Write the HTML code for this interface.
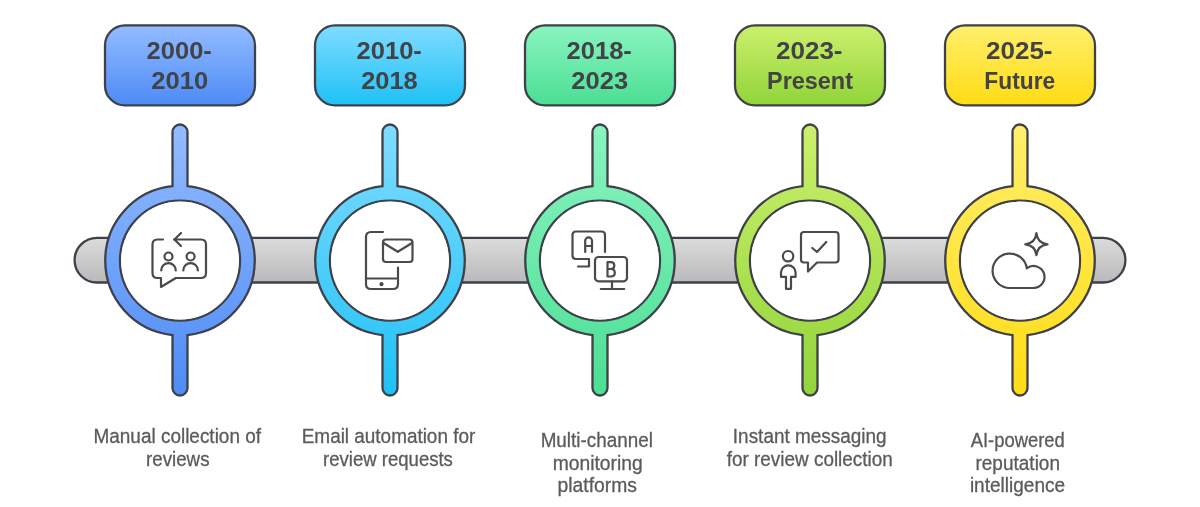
<!DOCTYPE html>
<html><head><meta charset="utf-8"><style>
html,body{margin:0;padding:0;background:#fff;}
body{width:1200px;height:507px;overflow:hidden;}
svg{display:block;will-change:transform;}
.yr{font-family:"Liberation Sans",sans-serif;font-weight:bold;font-size:24.7px;fill:#414347;text-anchor:middle;}
.lb{font-family:"Liberation Sans",sans-serif;font-size:19.3px;fill:#5b5b5b;stroke:#5b5b5b;stroke-width:0.3px;text-anchor:middle;}
</style></head><body>
<svg width="1200" height="507" viewBox="0 0 1200 507">
<defs><linearGradient id="b0" x1="0" y1="25" x2="0" y2="105" gradientUnits="userSpaceOnUse"><stop offset="0" stop-color="#94bcff"/><stop offset="1" stop-color="#4d8bf6"/></linearGradient><linearGradient id="r0" x1="0" y1="124" x2="0" y2="396" gradientUnits="userSpaceOnUse"><stop offset="0" stop-color="#94bcff"/><stop offset="1" stop-color="#4d8bf6"/></linearGradient><linearGradient id="b1" x1="0" y1="25" x2="0" y2="105" gradientUnits="userSpaceOnUse"><stop offset="0" stop-color="#80dcff"/><stop offset="1" stop-color="#1fc1f6"/></linearGradient><linearGradient id="r1" x1="0" y1="124" x2="0" y2="396" gradientUnits="userSpaceOnUse"><stop offset="0" stop-color="#80dcff"/><stop offset="1" stop-color="#1fc1f6"/></linearGradient><linearGradient id="b2" x1="0" y1="25" x2="0" y2="105" gradientUnits="userSpaceOnUse"><stop offset="0" stop-color="#8af4c0"/><stop offset="1" stop-color="#4cde94"/></linearGradient><linearGradient id="r2" x1="0" y1="124" x2="0" y2="396" gradientUnits="userSpaceOnUse"><stop offset="0" stop-color="#8af4c0"/><stop offset="1" stop-color="#4cde94"/></linearGradient><linearGradient id="b3" x1="0" y1="25" x2="0" y2="105" gradientUnits="userSpaceOnUse"><stop offset="0" stop-color="#cbf06c"/><stop offset="1" stop-color="#92d43a"/></linearGradient><linearGradient id="r3" x1="0" y1="124" x2="0" y2="396" gradientUnits="userSpaceOnUse"><stop offset="0" stop-color="#cbf06c"/><stop offset="1" stop-color="#92d43a"/></linearGradient><linearGradient id="b4" x1="0" y1="25" x2="0" y2="105" gradientUnits="userSpaceOnUse"><stop offset="0" stop-color="#ffef6c"/><stop offset="1" stop-color="#ffdc14"/></linearGradient><linearGradient id="r4" x1="0" y1="124" x2="0" y2="396" gradientUnits="userSpaceOnUse"><stop offset="0" stop-color="#ffef6c"/><stop offset="1" stop-color="#ffdc14"/></linearGradient><linearGradient id="bar" x1="0" y1="237" x2="0" y2="283" gradientUnits="userSpaceOnUse"><stop offset="0" stop-color="#dcdcdc"/><stop offset="1" stop-color="#b9b9b9"/></linearGradient></defs>
<rect x="74.6" y="237.8" width="1050.8" height="44.7" rx="22.35" fill="url(#bar)" stroke="#3e4149" stroke-width="2.3"/>
<rect x="105" y="25.4" width="150" height="80" rx="20" fill="url(#b0)" stroke="#3e4149" stroke-width="2.3"/>
<path d="M172.5,186.18 L172.5,132.0 A7.5,7.5 0 0 1 187.5,132.0 L187.5,186.18 A74.8,74.8 0 0 1 187.5,335.02 L187.5,388.0 A7.5,7.5 0 0 1 172.5,388.0 L172.5,335.02 A74.8,74.8 0 0 1 172.5,186.18 Z M180,200.60000000000002 A60,60 0 1 0 180,320.6 A60,60 0 1 0 180,200.60000000000002 Z" fill="url(#r0)" fill-rule="evenodd" stroke="#3e4149" stroke-width="2.3"/>
<circle cx="180" cy="260.6" r="59" fill="#fff"/>
<rect x="315" y="25.4" width="150" height="80" rx="20" fill="url(#b1)" stroke="#3e4149" stroke-width="2.3"/>
<path d="M382.5,186.18 L382.5,132.0 A7.5,7.5 0 0 1 397.5,132.0 L397.5,186.18 A74.8,74.8 0 0 1 397.5,335.02 L397.5,388.0 A7.5,7.5 0 0 1 382.5,388.0 L382.5,335.02 A74.8,74.8 0 0 1 382.5,186.18 Z M390,200.60000000000002 A60,60 0 1 0 390,320.6 A60,60 0 1 0 390,200.60000000000002 Z" fill="url(#r1)" fill-rule="evenodd" stroke="#3e4149" stroke-width="2.3"/>
<circle cx="390" cy="260.6" r="59" fill="#fff"/>
<rect x="525" y="25.4" width="150" height="80" rx="20" fill="url(#b2)" stroke="#3e4149" stroke-width="2.3"/>
<path d="M592.5,186.18 L592.5,132.0 A7.5,7.5 0 0 1 607.5,132.0 L607.5,186.18 A74.8,74.8 0 0 1 607.5,335.02 L607.5,388.0 A7.5,7.5 0 0 1 592.5,388.0 L592.5,335.02 A74.8,74.8 0 0 1 592.5,186.18 Z M600,200.60000000000002 A60,60 0 1 0 600,320.6 A60,60 0 1 0 600,200.60000000000002 Z" fill="url(#r2)" fill-rule="evenodd" stroke="#3e4149" stroke-width="2.3"/>
<circle cx="600" cy="260.6" r="59" fill="#fff"/>
<rect x="735" y="25.4" width="150" height="80" rx="20" fill="url(#b3)" stroke="#3e4149" stroke-width="2.3"/>
<path d="M802.5,186.18 L802.5,132.0 A7.5,7.5 0 0 1 817.5,132.0 L817.5,186.18 A74.8,74.8 0 0 1 817.5,335.02 L817.5,388.0 A7.5,7.5 0 0 1 802.5,388.0 L802.5,335.02 A74.8,74.8 0 0 1 802.5,186.18 Z M810,200.60000000000002 A60,60 0 1 0 810,320.6 A60,60 0 1 0 810,200.60000000000002 Z" fill="url(#r3)" fill-rule="evenodd" stroke="#3e4149" stroke-width="2.3"/>
<circle cx="810" cy="260.6" r="59" fill="#fff"/>
<rect x="945" y="25.4" width="150" height="80" rx="20" fill="url(#b4)" stroke="#3e4149" stroke-width="2.3"/>
<path d="M1012.5,186.18 L1012.5,132.0 A7.5,7.5 0 0 1 1027.5,132.0 L1027.5,186.18 A74.8,74.8 0 0 1 1027.5,335.02 L1027.5,388.0 A7.5,7.5 0 0 1 1012.5,388.0 L1012.5,335.02 A74.8,74.8 0 0 1 1012.5,186.18 Z M1020,200.60000000000002 A60,60 0 1 0 1020,320.6 A60,60 0 1 0 1020,200.60000000000002 Z" fill="url(#r4)" fill-rule="evenodd" stroke="#3e4149" stroke-width="2.3"/>
<circle cx="1020" cy="260.6" r="59" fill="#fff"/>
<text id="y0a" x="179.25" y="59.3" class="yr" textLength="65.27" lengthAdjust="spacingAndGlyphs">2000-</text>
<text id="y0b" x="179.75" y="89.4" class="yr" textLength="56.76" lengthAdjust="spacingAndGlyphs">2010</text>
<text id="y1a" x="389.25" y="59.3" class="yr" textLength="65.27" lengthAdjust="spacingAndGlyphs">2010-</text>
<text id="y1b" x="389.50" y="89.4" class="yr" textLength="56.54" lengthAdjust="spacingAndGlyphs">2018</text>
<text id="y2a" x="599.25" y="59.3" class="yr" textLength="65.27" lengthAdjust="spacingAndGlyphs">2018-</text>
<text id="y2b" x="599.75" y="89.4" class="yr" textLength="56.76" lengthAdjust="spacingAndGlyphs">2023</text>
<text id="y3a" x="809.25" y="59.3" class="yr" textLength="66.58" lengthAdjust="spacingAndGlyphs">2023-</text>
<text id="y3b" x="810.00" y="89.4" class="yr" textLength="85.95" lengthAdjust="spacingAndGlyphs">Present</text>
<text id="y4a" x="1019.25" y="59.3" class="yr" textLength="66.58" lengthAdjust="spacingAndGlyphs">2025-</text>
<text id="y4b" x="1019.75" y="89.4" class="yr" textLength="70.89" lengthAdjust="spacingAndGlyphs">Future</text>
<text id="l00" x="177.25" y="443.0" class="lb" textLength="167.53" lengthAdjust="spacingAndGlyphs">Manual collection of</text>
<text id="l01" x="177.75" y="465.5" class="lb" textLength="63.54" lengthAdjust="spacingAndGlyphs">reviews</text>
<text id="l10" x="388.50" y="443.0" class="lb" textLength="173.49" lengthAdjust="spacingAndGlyphs">Email automation for</text>
<text id="l11" x="388.00" y="465.5" class="lb" textLength="129.77" lengthAdjust="spacingAndGlyphs">review requests</text>
<text id="l20" x="596.75" y="447.0" class="lb" textLength="112.25" lengthAdjust="spacingAndGlyphs">Multi-channel</text>
<text id="l21" x="597.75" y="469.5" class="lb" textLength="90.01" lengthAdjust="spacingAndGlyphs">monitoring</text>
<text id="l22" x="597.25" y="492.0" class="lb" textLength="79.34" lengthAdjust="spacingAndGlyphs">platforms</text>
<text id="l30" x="809.75" y="443.0" class="lb" textLength="153.79" lengthAdjust="spacingAndGlyphs">Instant messaging</text>
<text id="l31" x="809.75" y="465.5" class="lb" textLength="166.06" lengthAdjust="spacingAndGlyphs">for review collection</text>
<text id="l40" x="1017.75" y="447.0" class="lb" textLength="94.04" lengthAdjust="spacingAndGlyphs">AI-powered</text>
<text id="l41" x="1017.75" y="469.5" class="lb" textLength="84.54" lengthAdjust="spacingAndGlyphs">reputation</text>
<text id="l42" x="1017.50" y="492.0" class="lb" textLength="95.19" lengthAdjust="spacingAndGlyphs">intelligence</text>
<g fill="none" stroke="#4a4a4a" stroke-width="2.2" stroke-linecap="round" stroke-linejoin="round">
  <path d="M163,239.5 L157.5,239.5 Q152.5,239.5 152.5,244.5 L152.5,273 Q152.5,278 157.5,278 L161,278 L161,287 L175.8,278 L201,278 Q206,278 206,273 L206,244.5 Q206,239.5 201,239.5 L174,239.5"/>
  <path d="M181,233 L174.5,239.5 L181,246"/>
  <circle cx="168.5" cy="256.5" r="4"/>
  <path d="M161.2,270.5 A7.3,7.3 0 0 1 175.8,270.5"/>
  <circle cx="190.6" cy="256.5" r="4"/>
  <path d="M183.3,270.5 A7.3,7.3 0 0 1 197.9,270.5"/>
  <path d="M383,232 L371,232 Q366,232 366,237 L366,284 Q366,289 371,289 L393,289 Q398,289 398,284 L398,267.5"/>
  <path d="M366,278.5 L398,278.5"/>
  <circle cx="381.5" cy="284.2" r="1" fill="#4a4a4a"/>
  <rect x="383" y="239.5" width="29.5" height="22.5" rx="3"/>
  <path d="M383.5,243 L397.8,251.8 L412,243"/>
  <path d="M605,252 L605,235 Q605,231.5 601.5,231.5 L576,231.5 Q572.5,231.5 572.5,235 L572.5,255.5 Q572.5,259 576,259 L589,259 L589,266.5 L578,266.5"/>
  <path d="M585.2,252 L585.2,240.8 A3.4,3.4 0 0 1 592,240.8 L592,252 M585.2,246 L592,246"/>
  <rect x="595" y="257" width="32" height="24.3" rx="3.5"/>
  <path d="M612,281.5 L612,289 M600.8,289 L624.2,289"/>
  <path d="M607.5,276.5 L607.5,262.2 L611,262.2 Q614.3,262.2 614.3,265.6 Q614.3,269 611,269 L607.5,269 M611,269 Q614.8,269 614.8,272.8 Q614.8,276.5 611,276.5 L607.5,276.5"/>
  <path d="M808,262.5 L804,262.5 Q801,262.5 801,259.5 L801,235 Q801,232 804,232 L835.5,232 Q838.5,232 838.5,235 L838.5,259.5 Q838.5,262.5 835.5,262.5 L817,262.5 L808,271.5 Z"/>
  <path d="M812.3,248 L817,252 L826.3,242"/>
  <circle cx="788.1" cy="256.2" r="5.2"/>
  <path d="M781,276.8 L781,272.6 A7.3,7.3 0 0 1 795.6,272.6 L795.6,276.8 L791,276.8 L791,288.8 L786,288.8 L786,276.8 Z"/>
  <path d="M1036.4,233.2 Q1037.4,243.3 1047.5,244.3 Q1037.4,245.3 1036.4,255.2 Q1035.4,245.3 1025.3,244.3 Q1035.4,243.3 1036.4,233.2 Z"/>
  <path d="M1009.8,288 A17.2,17.2 0 1 1 1026.81,268.27 A11,11 0 1 1 1033.5,288 Z"/>
</g>

</svg>
</body></html>
